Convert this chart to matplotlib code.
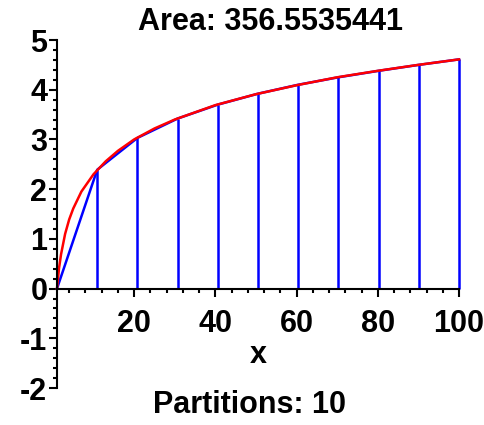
import matplotlib
matplotlib.use('Agg')
import matplotlib.pyplot as plt
from matplotlib.ticker import MultipleLocator

# partition points and trapezoid heights
part_x = [1, 10.9, 20.8, 30.7, 40.6, 50.5, 60.4, 70.3, 80.2, 90.1, 100]
part_y = [0, 2.39, 3.03, 3.42, 3.70, 3.92, 4.10, 4.25, 4.38, 4.50, 4.61]

# red curve
curve_x = [1, 1.5, 2, 3, 4, 5, 7, 10, 13, 16, 20, 25, 30, 40, 50, 60, 70, 80, 90, 100]
curve_y = [0, 0.41, 0.69, 1.10, 1.39, 1.61, 1.95, 2.30, 2.56, 2.77, 3.00, 3.22, 3.40,
           3.69, 3.91, 4.09, 4.25, 4.38, 4.50, 4.61]

x_ticks = [20, 40, 60, 80, 100]
y_ticks = [-2, -1, 0, 1, 2, 3, 4, 5]

plt.rcParams['font.family'] = ['Liberation Sans', 'DejaVu Sans']
plt.rcParams['font.weight'] = 'bold'
plt.rcParams['axes.unicode_minus'] = False

fig = plt.figure(figsize=(4.85, 4.25), dpi=100)
ax = fig.add_axes([57 / 485, 37 / 425, 402 / 485, 348 / 425])

# trapezoids
ax.plot(part_x, part_y, color='blue', lw=1.8, clip_on=False)
ax.vlines(part_x[1:], 0, part_y[1:], color='blue', lw=1.8, clip_on=False)
ax.plot(curve_x, curve_y, color='red', lw=1.8, clip_on=False)

ax.set_xlim(1, 100)
ax.set_ylim(-2, 5)
ax.spines['top'].set_visible(False)
ax.spines['right'].set_visible(False)
ax.spines['bottom'].set_position(('data', 0))
ax.spines['left'].set_linewidth(1.5)
ax.spines['bottom'].set_linewidth(1.5)

ax.set_xticks(x_ticks)
ax.set_yticks(y_ticks)
ax.xaxis.set_minor_locator(MultipleLocator(4))
ax.yaxis.set_minor_locator(MultipleLocator(0.2))
ax.tick_params(which='major', length=6, width=1.5, labelsize=22, pad=1)
ax.tick_params(axis='x', which='major', pad=9)
ax.tick_params(which='minor', length=3, width=1.5)
for lbl in ax.get_xticklabels() + ax.get_yticklabels():
    lbl.set_fontweight('bold')

fig.text(270 / 485, 1 - 22 / 425, 'Area: 356.5535441', ha='center', va='center',
         fontsize=22, fontweight='bold')
fig.text(258 / 485, 1 - 355 / 425, 'x', ha='center', va='center',
         fontsize=22, fontweight='bold')
fig.text(250 / 485, 1 - 405 / 425, 'Partitions: 10', ha='center', va='center',
         fontsize=22, fontweight='bold')

fig.savefig('out.png', dpi=100)
